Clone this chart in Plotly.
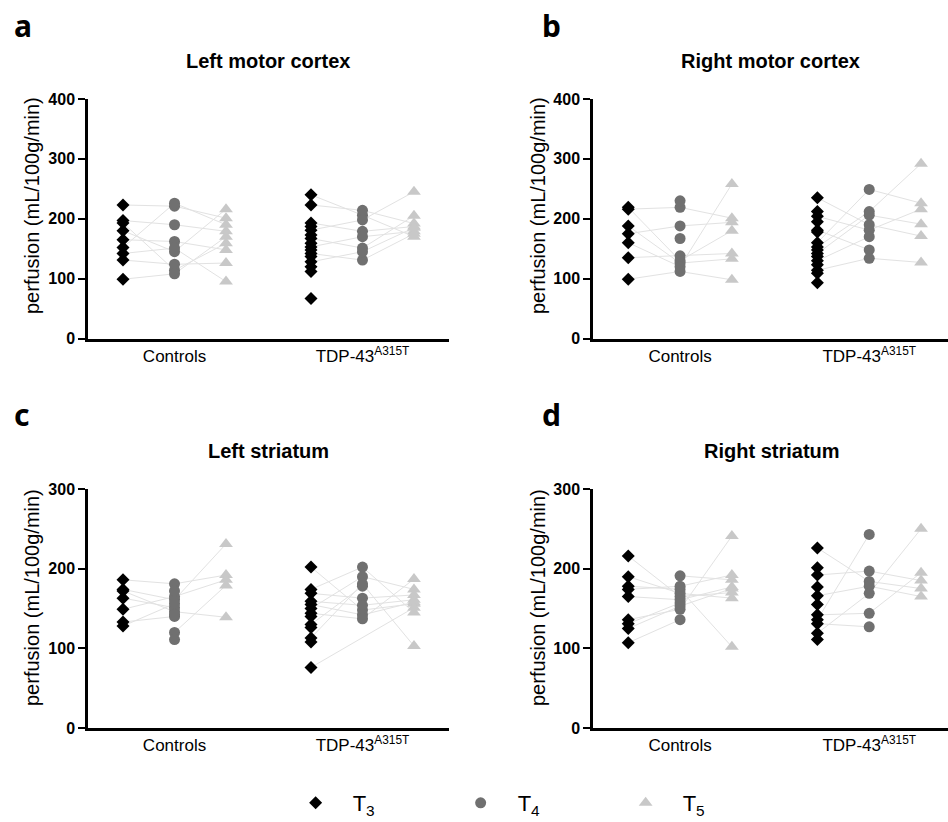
import plotly.graph_objects as go

# ---------------- data (perfusion, mL/100g/min) ----------------
# per-subject values at T3, T4, T5 (None = not measured)
a_ctrl_t3 = [223, 197, 193, 180, 165, 152, 142, 131, 99]
a_ctrl_t4 = [221, 190, 114, 145, 162, 226, 151, 124, 108]
a_ctrl_t5 = [201, 179, 159, 216, 148, 190, 95, 126, 170]

a_tdp_t3 = [240, 223, 193, 187, 181, 173, 167, 159, 153, 148, 142, 137, 128, 120, 112, 67]
a_tdp_t4 = [206, 214, 179, None, 198, None, 151, None, 170, None, 131, None, 145, None, None, None]
a_tdp_t5 = [170, 192, 187, None, 245, None, 205, None, 179, None, 175, None, 185, None, None, None]

b_ctrl_t3 = [216, 219, 188, 175, 160, 135, 99, None, None]
b_ctrl_t4 = [219, 130, 126, 188, 120, 138, 112, 230, 167]
b_ctrl_t5 = [201, 180, 133, 194, 258, 142, 98, None, None]

b_tdp_t3 = [235, 212, 204, 195, 181, 178, 160, 153, 148, 142, 137, 130, 123, 114, 109, 93]
b_tdp_t4 = [190, None, 181, None, 148, None, 249, 212, None, 206, None, 170, None, 134, None, None]
b_tdp_t5 = [171, None, 216, None, None, None, 226, 292, None, 191, None, None, None, 127, None, None]

c_ctrl_t3 = [186, 174, 172, 163, 149, 133, 128, None, None, None, None]
c_ctrl_t4 = [181, 161, 146, 151, 165, 140, 156, 172, 142, 120, 111]
c_ctrl_t5 = [192, 231, 139, None, 186, None, None, None, None, 179, None]

c_tdp_t3 = [202, 174, 169, 159, 155, 150, 144, 140, 130, 126, 113, 108, 76]
c_tdp_t4 = [148, 202, 163, 154, 142, 190, 137, None, 178, None, 181, None, None]
c_tdp_t5 = [156, 145, 167, 161, 158, 174, 187, None, None, None, 103, None, 151]

d_ctrl_t3 = [216, 190, 178, 174, 165, 136, 131, 125, 107, None]
d_ctrl_t4 = [165, 169, 174, 178, 161, 149, 157, 153, 136, 191]
d_ctrl_t5 = [170, 163, 102, 192, 177, 241, None, 175, None, 186]

d_tdp_t3 = [226, 201, 192, 177, 166, 155, 142, 136, 131, 119, 111]
d_tdp_t4 = [184, None, 197, None, 178, None, 144, 243, 127, 169, None]
d_tdp_t5 = [175, None, 185, None, 165, None, 195, None, None, 250, None]

groups = ["Controls", "TDP-43<sup>A315T</sup>"]
group_pos = [0, 3.65]
time_labels = ["T<sub>3</sub>", "T<sub>4</sub>", "T<sub>5</sub>"]

panels = [
    dict(letter="a", title="Left motor cortex", ymax=400, yticks=[0, 100, 200, 300, 400],
         data=[(a_ctrl_t3, a_ctrl_t4, a_ctrl_t5), (a_tdp_t3, a_tdp_t4, a_tdp_t5)]),
    dict(letter="b", title="Right motor cortex", ymax=400, yticks=[0, 100, 200, 300, 400],
         data=[(b_ctrl_t3, b_ctrl_t4, b_ctrl_t5), (b_tdp_t3, b_tdp_t4, b_tdp_t5)]),
    dict(letter="c", title="Left striatum", ymax=300, yticks=[0, 100, 200, 300],
         data=[(c_ctrl_t3, c_ctrl_t4, c_ctrl_t5), (c_tdp_t3, c_tdp_t4, c_tdp_t5)]),
    dict(letter="d", title="Right striatum", ymax=300, yticks=[0, 100, 200, 300],
         data=[(d_ctrl_t3, d_ctrl_t4, d_ctrl_t5), (d_tdp_t3, d_tdp_t4, d_tdp_t5)]),
]

# ---------------- styling / layout ----------------
W, H = 948, 822
FONT = "Liberation Sans, Arial, sans-serif"
marker_styles = [
    dict(symbol="diamond", size=10, color="#000000"),
    dict(symbol="circle", size=11, color="#707070"),
    dict(symbol="triangle-up", size=12, color="#c8c8c8"),
]
line_color = "#e2e2e2"

# pixel geometry
geo = [
    dict(x0=88, x1=449, yt=99, yb=338.5, xr=[-0.68, 6.33]),
    dict(x0=593, x1=948, yt=99, yb=338.5, xr=[-0.68, 6.17]),
    dict(x0=88, x1=449, yt=489, yb=728, xr=[-0.68, 6.33]),
    dict(x0=593, x1=948, yt=489, yb=728, xr=[-0.68, 6.17]),
]
letter_pos = [(12, 25), (540, 25), (12, 414), (540, 414)]
title_pos = [(268, 61), (770, 61), (268, 451), (772, 451)]
ytitle_pos = [(32, 206), (538, 206), (32, 598), (538, 598)]

fig = go.Figure()
layout = dict(
    width=W, height=H, margin=dict(l=0, r=0, t=0, b=0, autoexpand=False),
    paper_bgcolor="white", plot_bgcolor="white",
    font=dict(family=FONT, color="black"),
    showlegend=True,
    legend=dict(orientation="h", x=0.555, xanchor="center", y=-2 / H, yanchor="bottom",
                font=dict(size=22, family=FONT), entrywidth=86, entrywidthmode="pixels",
                itemwidth=64, bgcolor="rgba(0,0,0,0)", borderwidth=0),
)
annotations = []

for p, (panel, g) in enumerate(zip(panels, geo)):
    ax = "" if p == 0 else str(p + 1)
    xref, yref = "x" + ax, "y" + ax
    lx, ly = [], []
    for gi, (t3, t4, t5) in enumerate(panel["data"]):
        for s in range(len(t3)):
            pts = [(group_pos[gi] + k, v[s]) for k, v in enumerate((t3, t4, t5)) if v[s] is not None]
            if len(pts) >= 2:
                lx += [q[0] for q in pts] + [None]
                ly += [q[1] for q in pts] + [None]
    fig.add_trace(go.Scatter(x=lx, y=ly, mode="lines", line=dict(color=line_color, width=1),
                             xaxis=xref, yaxis=yref, showlegend=False, hoverinfo="skip"))
    for k in range(3):
        mx, my = [], []
        for gi, series in enumerate(panel["data"]):
            for v in series[k]:
                if v is not None:
                    mx.append(group_pos[gi] + k)
                    my.append(v)
        fig.add_trace(go.Scatter(x=mx, y=my, mode="markers", marker=marker_styles[k],
                                 name=time_labels[k], legendgroup=time_labels[k],
                                 showlegend=(p == 0), xaxis=xref, yaxis=yref))
    layout["xaxis" + ax] = dict(
        domain=[g["x0"] / W, g["x1"] / W], range=g["xr"], anchor=yref, automargin=False,
        showline=True, linecolor="black", linewidth=2.5, ticks="", showgrid=False, zeroline=False,
        tickvals=[group_pos[0] + 1, group_pos[1] + 1], ticktext=groups,
        tickfont=dict(size=17, family=FONT), fixedrange=True,
    )
    layout["yaxis" + ax] = dict(
        domain=[1 - g["yb"] / H, 1 - g["yt"] / H], range=[0, panel["ymax"]], anchor=xref,
        automargin=False,
        showline=True, linecolor="black", linewidth=2.5, ticks="outside", ticklen=7, tickwidth=2,
        tickcolor="black", tickvals=panel["yticks"], showgrid=False, zeroline=False,
        tickfont=dict(size=16, family=FONT, weight="bold"), fixedrange=True,
    )
    lxp, lyp = letter_pos[p]
    annotations.append(dict(text="<b>%s</b>" % panel["letter"], x=lxp / W, y=1 - lyp / H,
                            xref="paper", yref="paper", xanchor="left", yanchor="middle",
                            showarrow=False, font=dict(size=30, family="Noto Sans")))
    txp, typ = title_pos[p]
    annotations.append(dict(text="<b>%s</b>" % panel["title"], x=txp / W, y=1 - typ / H,
                            xref="paper", yref="paper", xanchor="center", yanchor="middle",
                            showarrow=False, font=dict(size=20, family=FONT)))
    yxp, yyp = ytitle_pos[p]
    annotations.append(dict(text="perfusion (mL/100g/min)", x=yxp / W, y=1 - yyp / H,
                            xref="paper", yref="paper", xanchor="center", yanchor="middle",
                            textangle=-90, showarrow=False, font=dict(size=20, family=FONT)))

layout["annotations"] = annotations
fig.update_layout(**layout)
fig.write_html("out.html", config={"displayModeBar": False},
               post_script="document.body.style.margin='0';")
